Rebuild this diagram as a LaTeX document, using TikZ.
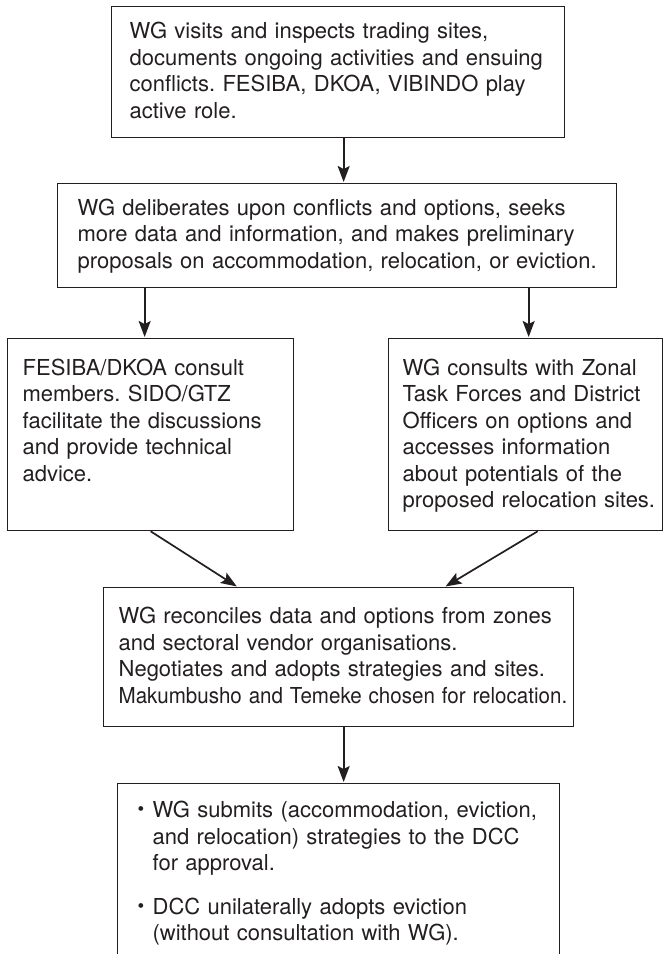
\documentclass[tikz,border=0pt]{standalone}
\usepackage{fontspec}
\setmainfont{TeX Gyre Heros}
\usepackage{graphicx}
\usetikzlibrary{arrows.meta}
\usepackage{xcolor}
\definecolor{ink}{HTML}{231F20}
\newcommand{\Fs}{\fontsize{22}{26.5}\selectfont\frenchspacing}
\newcommand{\Bul}{\makebox[15pt][l]{\raisebox{2pt}{\fontsize{19}{19}\selectfont\textbullet}}}
\newcommand{\TxtVisit}{WG visits and inspects trading sites,\\ documents ongoing activities and ensuing\\ conflicts. FESIBA, DKOA, VIBINDO play\\ active role.}
\newcommand{\TxtDelib}{WG deliberates upon conflicts and options, seeks\\ more data and information, and makes preliminary\\ proposals on accommodation, relocation, or eviction.}
\newcommand{\TxtConsult}{FESIBA/DKOA consult\\ members. SIDO/GTZ\\ facilitate the discussions\\ and provide technical\\ advice.}
\newcommand{\TxtZonal}{WG consults with Zonal\\ Task Forces and District\\ Officers on options and\\ accesses information\\ about potentials of the\\ \mbox{proposed relocation sites.}}
\newcommand{\TxtReconcile}{WG reconciles data and options from zones\\ and sectoral vendor organisations.\\ Negotiates and adopts strategies and sites.\\ \scalebox{0.935}[1]{Makumbusho and Temeke chosen for relocation.}}
\newcommand{\TxtSubmit}{\mbox{\Bul WG submits (accommodation, eviction,}\\ \mbox{\hspace*{15pt}and relocation) strategies to the DCC}\\ \mbox{\hspace*{15pt}for approval.}\\[17pt] \mbox{\Bul DCC unilaterally adopts eviction}\\ \mbox{\hspace*{15pt}(without consultation with WG).}}

\begin{document}
\begin{tikzpicture}[x=1pt,y=-1pt,ink,
  box/.style={draw, line width=1.3pt, align=left, anchor=north west, inner ysep=0pt, font=\Fs, text=ink},
  flow/.style={-{Stealth[length=16pt,width=12pt,inset=3pt]}, line width=1.7pt, shorten >=1pt}]
  \clip (0,0) rectangle (668,954);
  \node[box, inner xsep=18pt, text width=417pt, text height=32pt, text depth=99pt]    (visit)     at (111,6)   {\TxtVisit};
  \node[box, inner xsep=20pt, text width=519pt, text height=31.5pt, text depth=72.5pt] (delib)     at (57,183)  {\TxtDelib};
  \node[box, inner xsep=15pt, text width=256pt, text height=36.5pt, text depth=155.5pt] (consult)  at (7,338)   {\TxtConsult};
  \node[box, inner xsep=14pt, text width=246pt, text height=36.5pt, text depth=155.5pt] (zonal)    at (388,338) {\TxtZonal};
  \node[box, inner xsep=15pt, text width=440pt, text height=36pt, text depth=103pt]    (reconcile) at (103,587) {\TxtReconcile};
  \node[box, inner xsep=20pt, text width=402pt, text height=34pt, text depth=163pt]    (submit)    at (117,783) {\TxtSubmit};
  \draw[flow] ([xshift=5.5pt]visit.south) -- ([xshift=5.5pt]visit.south |- delib.north);
  \draw[flow] ([xshift=-6pt]consult.north |- delib.south) -- ([xshift=-6pt]consult.north);
  \draw[flow] ([xshift=3pt]zonal.north |- delib.south) -- ([xshift=3pt]zonal.north);
  \draw[flow] (consult.south) -- ([xshift=-101pt]reconcile.north);
  \draw[flow] ([xshift=12pt]zonal.south) -- ([xshift=106pt]reconcile.north);
  \draw[flow] ([xshift=5pt]reconcile.south) -- ([xshift=5pt]submit.north);
\end{tikzpicture}
\end{document}
